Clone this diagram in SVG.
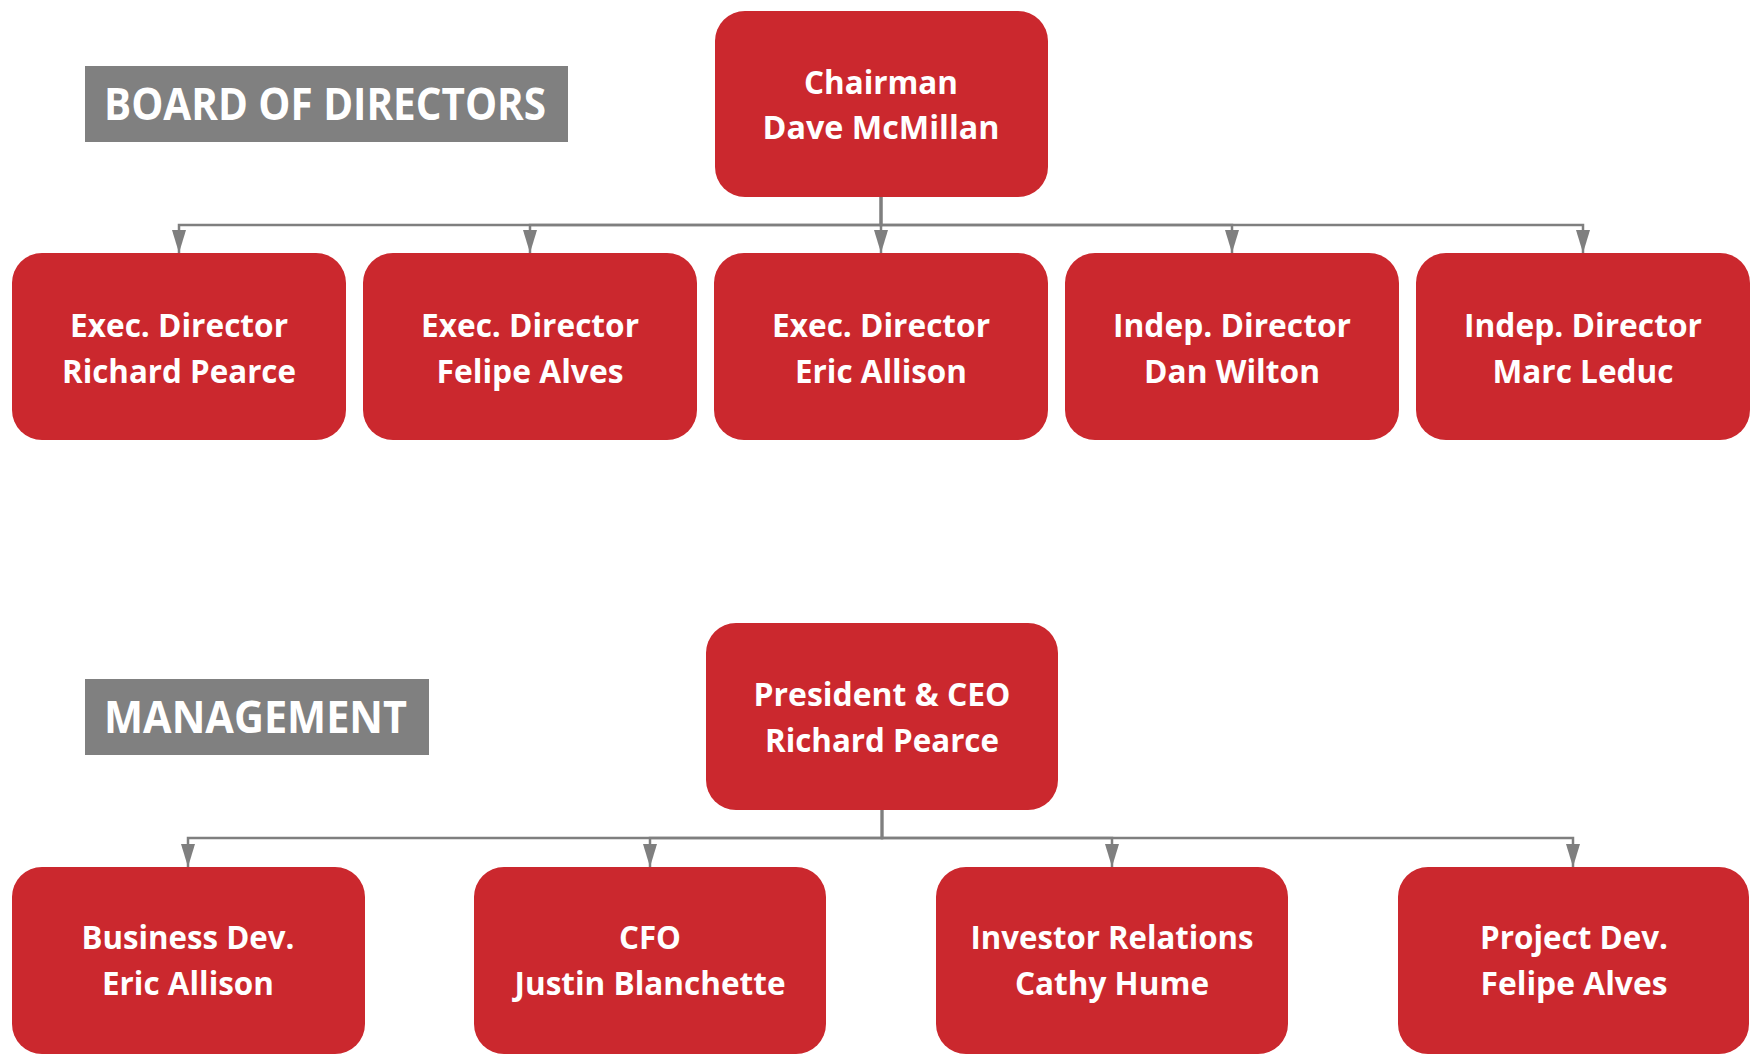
<svg xmlns="http://www.w3.org/2000/svg" width="1750" height="1055" viewBox="0 0 1750 1055">
  <defs>
    <style>
      .box { fill: #CB282E; }
      .band { fill: #808080; }
      .t { font-family: "Open Sans", "Liberation Sans", sans-serif; font-weight: 700; fill: #FFFFFF; }
      .nt { font-size: 33px; text-anchor: middle; }
      .bt { font-size: 44px; }
      .wire { fill: none; stroke: #7F7F7F; stroke-width: 2.5; marker-end: url(#arrow); }
    </style>
    <marker id="arrow" viewBox="0 0 23 14" refX="23" refY="7" markerWidth="23" markerHeight="14" markerUnits="userSpaceOnUse" orient="auto">
      <path d="M0,0 L23,7 L0,14 z" fill="#7F7F7F"/>
    </marker>
  </defs>

  <!-- section headings -->
  <g id="heading-board">
    <rect class="band" x="85" y="66" width="483" height="76"/>
    <text class="t bt" x="104" y="120" textLength="442" lengthAdjust="spacingAndGlyphs">BOARD OF DIRECTORS</text>
  </g>
  <g id="heading-management">
    <rect class="band" x="85" y="679" width="344" height="76"/>
    <text class="t bt" x="104" y="733" textLength="303" lengthAdjust="spacingAndGlyphs">MANAGEMENT</text>
  </g>

  <!-- connectors -->
  <g id="connectors">
    <path class="wire" d="M881,197 V225 H179 V253"/>
    <path class="wire" d="M881,197 V225 H530 V253"/>
    <path class="wire" d="M881,197 V253"/>
    <path class="wire" d="M881,197 V225 H1232 V253"/>
    <path class="wire" d="M881,197 V225 H1583 V253"/>

    <path class="wire" d="M882,810 V838 H188 V867"/>
    <path class="wire" d="M882,810 V838 H650 V867"/>
    <path class="wire" d="M882,810 V838 H1112 V867"/>
    <path class="wire" d="M882,810 V838 H1573 V867"/>
  </g>

  <!-- board of directors -->
  <g id="chairman">
    <rect class="box" x="715" y="11" width="333" height="186" rx="30" ry="30"/>
    <text class="t nt" x="881" y="94" textLength="154" lengthAdjust="spacingAndGlyphs">Chairman</text>
    <text class="t nt" x="881" y="139" textLength="237" lengthAdjust="spacingAndGlyphs">Dave McMillan</text>
  </g>
  <g id="exec-pearce">
    <rect class="box" x="12" y="253" width="334" height="187" rx="30" ry="30"/>
    <text class="t nt" x="179" y="337" textLength="218" lengthAdjust="spacingAndGlyphs">Exec. Director</text>
    <text class="t nt" x="179" y="383" textLength="234" lengthAdjust="spacingAndGlyphs">Richard Pearce</text>
  </g>
  <g id="exec-alves">
    <rect class="box" x="363" y="253" width="334" height="187" rx="30" ry="30"/>
    <text class="t nt" x="530" y="337" textLength="218" lengthAdjust="spacingAndGlyphs">Exec. Director</text>
    <text class="t nt" x="530" y="383" textLength="187" lengthAdjust="spacingAndGlyphs">Felipe Alves</text>
  </g>
  <g id="exec-allison">
    <rect class="box" x="714" y="253" width="334" height="187" rx="30" ry="30"/>
    <text class="t nt" x="881" y="337" textLength="218" lengthAdjust="spacingAndGlyphs">Exec. Director</text>
    <text class="t nt" x="881" y="383" textLength="172" lengthAdjust="spacingAndGlyphs">Eric Allison</text>
  </g>
  <g id="indep-wilton">
    <rect class="box" x="1065" y="253" width="334" height="187" rx="30" ry="30"/>
    <text class="t nt" x="1232" y="337" textLength="238" lengthAdjust="spacingAndGlyphs">Indep. Director</text>
    <text class="t nt" x="1232" y="383" textLength="176" lengthAdjust="spacingAndGlyphs">Dan Wilton</text>
  </g>
  <g id="indep-leduc">
    <rect class="box" x="1416" y="253" width="334" height="187" rx="30" ry="30"/>
    <text class="t nt" x="1583" y="337" textLength="238" lengthAdjust="spacingAndGlyphs">Indep. Director</text>
    <text class="t nt" x="1583" y="383" textLength="181" lengthAdjust="spacingAndGlyphs">Marc Leduc</text>
  </g>

  <!-- management -->
  <g id="president-ceo">
    <rect class="box" x="706" y="623" width="352" height="187" rx="30" ry="30"/>
    <text class="t nt" x="882" y="706" textLength="257" lengthAdjust="spacingAndGlyphs">President &amp; CEO</text>
    <text class="t nt" x="882" y="752" textLength="234" lengthAdjust="spacingAndGlyphs">Richard Pearce</text>
  </g>
  <g id="business-dev">
    <rect class="box" x="12" y="867" width="353" height="187" rx="30" ry="30"/>
    <text class="t nt" x="188" y="949" textLength="213" lengthAdjust="spacingAndGlyphs">Business Dev.</text>
    <text class="t nt" x="188" y="995" textLength="172" lengthAdjust="spacingAndGlyphs">Eric Allison</text>
  </g>
  <g id="cfo">
    <rect class="box" x="474" y="867" width="352" height="187" rx="30" ry="30"/>
    <text class="t nt" x="650" y="949" textLength="62" lengthAdjust="spacingAndGlyphs">CFO</text>
    <text class="t nt" x="650" y="995" textLength="271" lengthAdjust="spacingAndGlyphs">Justin Blanchette</text>
  </g>
  <g id="investor-relations">
    <rect class="box" x="936" y="867" width="352" height="187" rx="30" ry="30"/>
    <text class="t nt" x="1112" y="949" textLength="283" lengthAdjust="spacingAndGlyphs">Investor Relations</text>
    <text class="t nt" x="1112" y="995" textLength="194" lengthAdjust="spacingAndGlyphs">Cathy Hume</text>
  </g>
  <g id="project-dev">
    <rect class="box" x="1398" y="867" width="351" height="187" rx="30" ry="30"/>
    <text class="t nt" x="1574" y="949" textLength="188" lengthAdjust="spacingAndGlyphs">Project Dev.</text>
    <text class="t nt" x="1574" y="995" textLength="187" lengthAdjust="spacingAndGlyphs">Felipe Alves</text>
  </g>
</svg>
